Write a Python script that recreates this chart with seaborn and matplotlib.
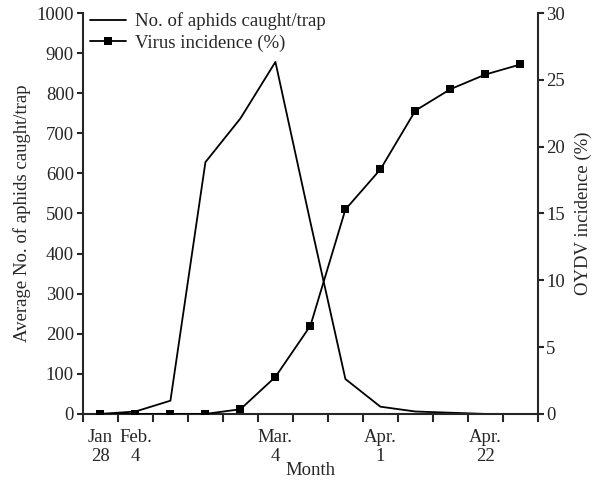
import numpy as np
import pandas as pd
import matplotlib
matplotlib.use("Agg")
import matplotlib.pyplot as plt
import seaborn as sns
from matplotlib.lines import Line2D

# weekly samples, index 0 = Jan 28
weeks = list(range(13))
aphids = [0, 6, 33, 628, 737, 878, 478, 87, 18, 6, 3, 0, None]
virus = [0, 0, 0, 0, 0.35, 2.77, 6.6, 15.3, 18.3, 22.7, 24.3, 25.4, 26.15]
date_pos = [0, 1, 5, 8, 11]
date_labels = ["Jan\n28", "Feb.\n4", "Mar.\n4", "Apr.\n1", "Apr.\n22"]

df = pd.DataFrame({"week": weeks, "aphids": aphids, "virus": virus})

sns.set_style("ticks")
plt.rcParams["font.family"] = ["Liberation Serif", "DejaVu Serif"]
plt.rcParams["font.size"] = 13.5

fig = plt.figure(figsize=(6.01, 4.91), dpi=100)
ax = fig.add_axes([0.138, 0.157, 0.757, 0.8165])

sns.lineplot(data=df.dropna(), x="week", y="aphids", ax=ax, color="black",
             linewidth=1.3, sort=False)
ax.set_ylim(0, 1000)
ax.set_yticks(np.arange(0, 1001, 100))
ax.set_xlim(-0.5, 12.5)

ax2 = ax.twinx()
sns.lineplot(data=df, x="week", y="virus", ax=ax2, color="black",
             linewidth=1.3, marker="s", markersize=5.5, markeredgewidth=0,
             sort=False)
ax2.set_ylim(0, 30)
ax2.set_yticks(np.arange(0, 31, 5))
ax2.set_xlim(-0.5, 12.5)

# week boundaries as tick marks, dates as labels in between
ax.set_xticks(np.arange(-0.5, 13, 1))
ax.set_xticklabels([])
ax.set_xticks(date_pos, minor=True)
ax.set_xticklabels(date_labels, minor=True, linespacing=1.15)
ax.tick_params(axis="x", which="minor", length=0, pad=11)
ax.tick_params(axis="x", which="major", length=6, width=1.5, direction="out")
ax.tick_params(axis="y", length=4.5, width=1.5, pad=2)
ax2.tick_params(axis="y", length=4, width=1.5, pad=2)

for a in (ax, ax2):
    a.spines["top"].set_visible(False)
    for s in ("left", "right", "bottom"):
        a.spines[s].set_linewidth(1.5)
ax.spines["right"].set_visible(False)
ax2.spines["left"].set_visible(False)
ax2.spines["bottom"].set_visible(False)

ax.set_xlabel("Month", labelpad=-2)
ax.set_ylabel("Average No. of aphids caught/trap", labelpad=4)
ax2.set_ylabel("OYDV incidence (%)", labelpad=7)

handles = [
    Line2D([], [], color="black", linewidth=1.3),
    Line2D([], [], color="black", linewidth=1.3, marker="s", markersize=5.5,
           markeredgewidth=0),
]
ax2.legend(handles, ["No. of aphids caught/trap", "Virus incidence (%)"],
           loc="upper left", bbox_to_anchor=(-0.01, 1.03), frameon=False,
           handlelength=1.95, handletextpad=0.45, labelspacing=0.22,
           borderaxespad=0.2)

fig.savefig("out.png", dpi=100)
